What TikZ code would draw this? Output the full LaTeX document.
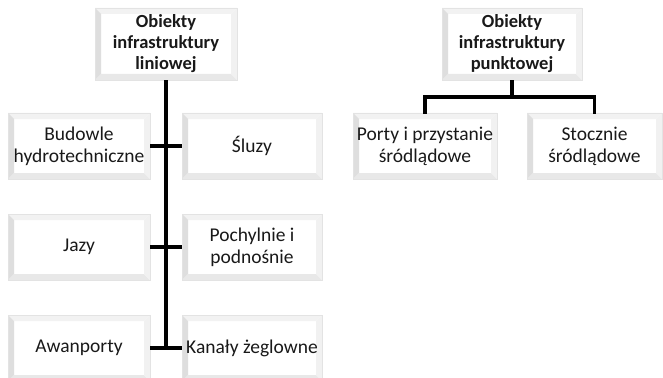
\documentclass[tikz,border=0pt]{standalone}
\usepackage{fontspec}
\setmainfont{Carlito}
\begin{document}
\begin{tikzpicture}[x=1pt,y=-1pt,
  bevbox/.style={rectangle, fill=white, draw=gray!22, line width=0.6pt,
    minimum height=66pt, align=center, inner sep=1pt,
    font=\fontsize{19.5}{22}\selectfont, text=black!90,
    path picture={
      \coordinate (NW) at (path picture bounding box.north west);
      \coordinate (NE) at (path picture bounding box.north east);
      \coordinate (SW) at (path picture bounding box.south west);
      \coordinate (SE) at (path picture bounding box.south east);
      \fill[gray!10] (NW) -- (NE) -- ([shift={(-6pt,-6pt)}]NE) -- ([shift={(6pt,-6pt)}]NW) -- cycle;
      \fill[gray!26] (NW) -- ([shift={(6pt,-6pt)}]NW) -- ([shift={(6pt,6pt)}]SW) -- (SW) -- cycle;
      \fill[gray!18] (SW) -- ([shift={(6pt,6pt)}]SW) -- ([shift={(-6pt,6pt)}]SE) -- (SE) -- cycle;
      \fill[gray!11] (SE) -- ([shift={(-6pt,6pt)}]SE) -- ([shift={(-6pt,-6pt)}]NE) -- (NE) -- cycle;
    }},
  headbox/.style={bevbox, minimum height=72pt, font=\bfseries\fontsize{18.5}{21}\selectfont},
  conn/.style={draw=black, line width=3.6pt}
]
\useasboundingbox (0,0) rectangle (663,377);
% left tree
\node[headbox, minimum width=142pt] (t1) at (166,44) {Obiekty\\infrastruktury\\liniowej};
\node[bevbox, minimum width=142pt] (a1) at (79,146) {Budowle\\hydrotechniczne};
\node[bevbox, minimum width=140pt] (b1) at (252,146) {Śluzy};
\node[bevbox, minimum width=142pt] (a2) at (79,247) {Jazy};
\node[bevbox, minimum width=140pt] (b2) at (252,247) {Pochylnie i\\podnośnie};
\node[bevbox, minimum width=142pt] (a3) at (79,348) {Awanporty};
\node[bevbox, minimum width=140pt] (b3) at (252,348) {Kanały żeglowne};
% right tree
\node[headbox, minimum width=140pt] (t2) at (512,44) {Obiekty\\infrastruktury\\punktowej};
\node[bevbox, minimum width=144pt] (p1) at (425,146) {Porty i przystanie\\śródlądowe};
\node[bevbox, minimum width=135pt] (p2) at (594.5,146) {Stocznie\\śródlądowe};
% connectors
\draw[conn] (t1.south) -- (t1.south |- a3.east);
\draw[conn] (a1.east) -- (b1.west);
\draw[conn] (a2.east) -- (b2.west);
\draw[conn] (a3.east) -- (b3.west);
\coordinate (j) at ([yshift=-17pt]t2.south);
\draw[conn] (t2.south) -- (j);
\draw[conn, line cap=rect] (j) -| (p1.north);
\draw[conn, line cap=rect] (j) -| (p2.north);
\end{tikzpicture}
\end{document}
